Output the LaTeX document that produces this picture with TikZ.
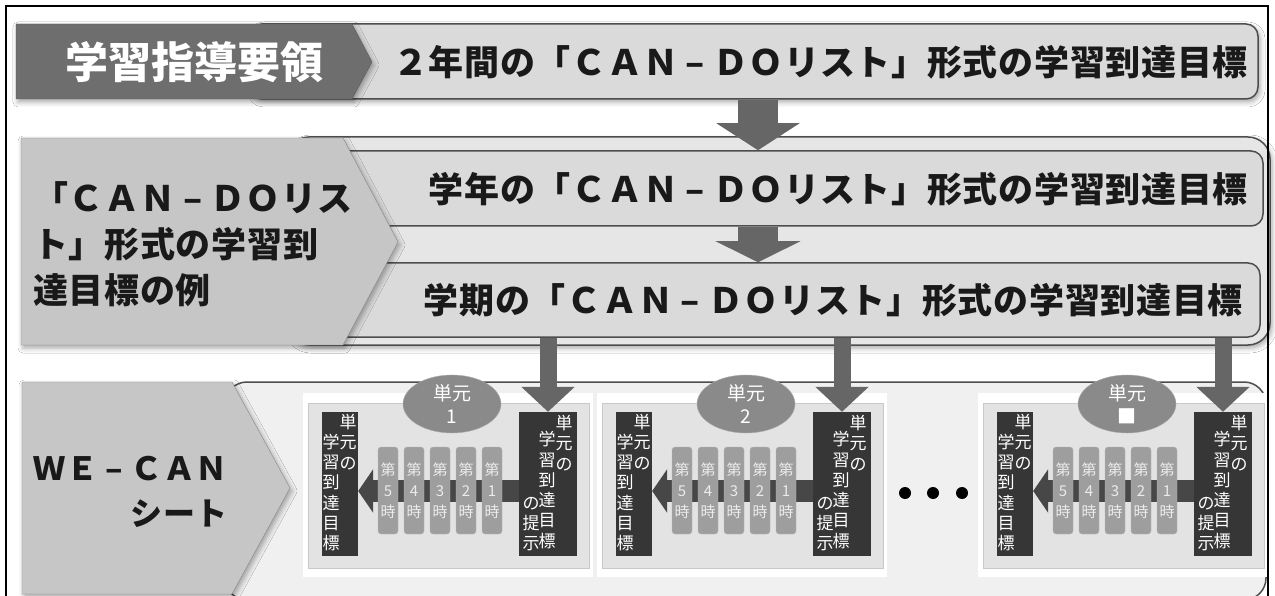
\documentclass[tikz,border=0pt]{standalone}
\usepackage{fontspec}
\setmainfont{Noto Sans CJK JP}
\newfontfamily\jpwide[LetterSpace=2]{Noto Sans CJK JP}
\usetikzlibrary{arrows.meta,shapes.geometric,shadows.blur}

\definecolor{guidegray}{HTML}{6E6E6E}
\definecolor{guideline}{HTML}{5C5C5C}
\definecolor{pentgray}{HTML}{C6C6C6}
\definecolor{pentline}{HTML}{8A8A8A}
\definecolor{boxfill}{HTML}{DADADA}
\definecolor{boxline}{HTML}{4D4D4D}
\definecolor{grpfill}{HTML}{E6E6E6}
\definecolor{sheetfill}{HTML}{F0F0F0}
\definecolor{arrowgray}{HTML}{666666}
\definecolor{bardark}{HTML}{363636}
\definecolor{hourfill}{HTML}{9E9E9E}
\definecolor{hourline}{HTML}{B8B8B8}
\definecolor{harrow}{HTML}{474747}
\definecolor{panelfill}{HTML}{E3E3E3}
\definecolor{panelline}{HTML}{C9C9C9}
\definecolor{unitfill}{HTML}{8A8A8A}

\newcommand\hy{\makebox[1em]{–}}

\tikzset{
  softshadow/.style={blur shadow={shadow xshift=2pt, shadow yshift=-3pt, shadow blur radius=5pt, shadow opacity=35}},
  rowbox/.style={draw=boxline, line width=1.5pt, fill=boxfill, rounded corners=12pt, inner sep=0pt},
  grpbox/.style={draw=boxline, line width=1.5pt, fill=grpfill, rounded corners=22pt, inner sep=0pt},
  sheetbox/.style={draw=boxline, line width=1.5pt, fill=sheetfill, rounded corners=22pt, inner sep=0pt},
  rowtext/.style={font={\jpwide\bfseries\fontsize{35}{40}\selectfont}, text=black!90, inner sep=0pt},
  pentext/.style={font={\jpwide\bfseries\fontsize{35}{46}\selectfont}, text=black!90, inner sep=0pt},
  panel/.style={draw=panelline, fill=panelfill, line width=1pt, inner sep=0pt},
  darkbar/.style={fill=bardark, minimum height=144pt, inner sep=0pt},
  bartxt/.style={font={\fontsize{17}{20.3}\selectfont}, text=white, align=center, inner sep=0pt},
  hourbox/.style={draw=hourline, fill=hourfill, rounded corners=3pt, minimum width=20pt, minimum height=87pt,
    inner sep=0pt, align=center, text=white!92!black, font={\fontsize{15}{21}\selectfont}},
  unitell/.style={ellipse, draw=unitfill!70!white, fill=unitfill, minimum width=98pt, minimum height=58pt,
    inner sep=0pt, align=center, text=white, font={\fontsize{19}{23}\selectfont}},
  bigdown/.style={draw=arrowgray, line width=40pt, -{Triangle[length=27pt,width=82pt]}},
  thindown/.style={draw=arrowgray, line width=17pt, -{Triangle[length=25pt,width=52pt]}},
  hourarrow/.style={draw=harrow, line width=22pt, -{Triangle[length=15pt,width=43pt]}},
  dot/.style={circle, fill=black, minimum size=12pt, inner sep=0pt}
}

\begin{document}
\begin{tikzpicture}[x=1pt,y=-1pt]
\useasboundingbox (0,0) rectangle (1275,596);
\clip (0,0) rectangle (1275,596);
\fill[white] (0,0) rectangle (1275,596);

% row 1
\node[rowbox, softshadow, minimum width=1008pt, minimum height=75pt] (plan2y) at (754,61.5) {};
\node[rowtext, anchor=east] (plan2ytxt) at (1248,62) {２年間の「ＣＡＮ\hy ＤＯリスト」形式の学習到達目標};
\fill[guidegray, draw=guideline, softshadow] (16,24) -- (352,24) -- (372,62) -- (352,99) -- (16,99) -- cycle;
\node[font={\bfseries\fontsize{43}{48}\selectfont}, text=white, inner sep=0pt] (guidetxt) at (194,62) {学習指導要領};

% row 2
\node[grpbox, softshadow, minimum width=983pt, minimum height=208pt] (grp) at (778.5,241) {};
\node[rowbox, minimum width=963pt, minimum height=75pt] (year) at (781.5,188.5) {};
\node[rowtext, anchor=east] (yeartxt) at (1248,189) {学年の「ＣＡＮ\hy ＤＯリスト」形式の学習到達目標};
\node[rowbox, minimum width=960pt, minimum height=74pt] (term) at (780,300) {};
\node[rowtext, anchor=east] (termtxt) at (1243,300) {学期の「ＣＡＮ\hy ＤＯリスト」形式の学習到達目標};
\fill[pentgray, draw=pentline, softshadow] (21,138) -- (343,138) -- (398,242) -- (343,345) -- (21,345) -- cycle;
\node[pentext, anchor=west, align=left] (candotxt) at (33,244) {「ＣＡＮ\hy ＤＯリス\\ト」形式の学習到\\達目標の例};

% row 3
\node[sheetbox, minimum width=1041pt, minimum height=218pt] (sheet) at (745.5,491) {};
\fill[pentgray, draw=pentline, softshadow] (22,382) -- (232,382) -- (290,488) -- (232,594) -- (22,594) -- cycle;
\node[pentext, anchor=east, align=right, font={\jpwide\bfseries\fontsize{32}{45}\selectfont}] (wecantxt) at (228,492) {ＷＥ\hy ＣＡＮ\\シート};

\foreach \px/\num/\nm in {308/1/a,602/2/b,983/■/c}{
  \fill[white] (\px-5,393) rectangle (\px+285,577);
  \node[panel, minimum width=281pt, minimum height=165pt] (pan\nm) at (\px+140.5,485.5) {};
  \node[darkbar, minimum width=36pt] (lbar\nm) at (\px+32,484) {};
  \node[darkbar, minimum width=58pt] (rbar\nm) at (\px+240,484) {};
  \node[bartxt] (lbtop\nm) at (\px+40,442) {単\\元\\の};
  \node[bartxt] (lbgoal\nm) at (\px+23,492.5) {学\\習\\到\\達\\目\\標};
  \node[bartxt] (rbtop\nm) at (\px+256,443) {単\\元\\の};
  \node[bartxt] (rbgoal\nm) at (\px+239,490) {学\\習\\到\\達\\目\\標};
  \node[bartxt] (rbshow\nm) at (\px+223,524) {の\\提\\示};
  \draw[hourarrow] (rbar\nm.west |- 0,491) -- (lbar\nm.east |- 0,491);
  \foreach \k/\h in {0/5,1/4,2/3,3/2,4/1}
    \node[hourbox] (hr\nm\h) at (\px+80+26*\k,490.5) {第\\\h\\時};
  \node[unitell] (unit\nm) at (\px+144,404) {単元\\\num};
  \draw[thindown] (term.south -| rbar\nm.north) -- (rbar\nm.north);
}

\foreach \i/\dx in {1/905,2/933,3/962}
  \node[dot] (more\i) at (\dx,493) {};

% arrows between the goal rows
\coordinate (midx) at (758,0);
\draw[bigdown] (plan2y.south -| midx) -- (year.north -| midx);
\draw[bigdown, -{Triangle[length=21pt,width=84pt]}] (year.south -| midx) -- (term.north -| midx);

\draw[line width=2.5pt] (6,6) rectangle (1268,610);
\end{tikzpicture}
\end{document}
